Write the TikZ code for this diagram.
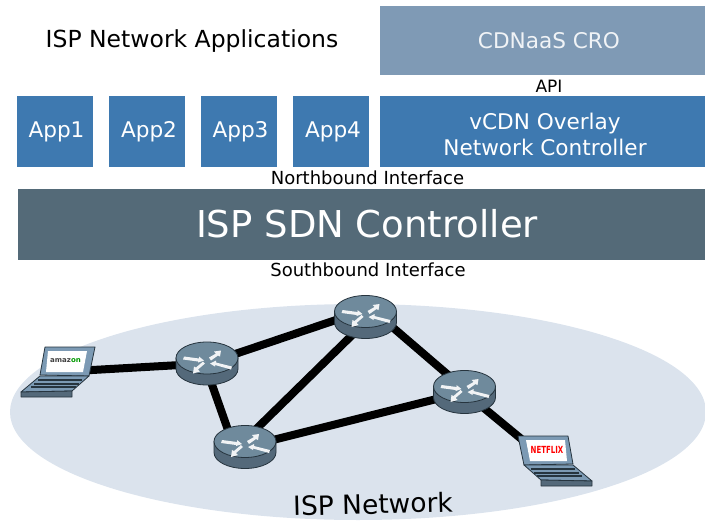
\documentclass[tikz,border=0pt]{standalone}
\usepackage{fontspec}
\setmainfont{DejaVu Sans}
\usepackage{tikz}
\usetikzlibrary{positioning,arrows}

\definecolor{croblue}{HTML}{7F9AB5}
\definecolor{appblue}{HTML}{3E79B0}
\definecolor{sdngrey}{HTML}{546A78}
\definecolor{netblue}{HTML}{DBE3ED}
\definecolor{routertop}{HTML}{6F8A9C}
\definecolor{routerside}{HTML}{54697A}
\definecolor{kitline}{HTML}{26343E}
\definecolor{laptopblue}{HTML}{7C9AB4}

\begin{document}
\begin{tikzpicture}[x=1pt,y=-1pt]

\pgfdeclarelayer{background}
\pgfsetlayers{background,main}

\useasboundingbox (0,0) rectangle (705,522);

\tikzstyle{solidbox} = [text=white, align=center, inner sep=0pt]
\tikzstyle{appbox} = [solidbox, fill=appblue, minimum width=76pt, minimum height=71pt, font=\fontsize{21.6}{26}\selectfont]
\tikzstyle{widebox} = [appbox, minimum width=325pt]
\tikzstyle{crobox} = [widebox, fill=croblue, minimum height=69pt]
\tikzstyle{sdnbox} = [solidbox, fill=sdngrey, minimum width=687pt, minimum height=71pt]
\tikzstyle{boxtext} = [text=white, align=center, inner sep=0pt, font=\fontsize{21.6}{26}\selectfont]
\tikzstyle{texto} = [text=black, inner sep=0pt, font=\fontsize{18}{22}\selectfont]
\tikzstyle{routernode} = [minimum width=62pt, minimum height=43pt, inner sep=0pt]
\tikzstyle{netlink} = [line width=8pt, black]
\tikzstyle{kit} = [draw=kitline, line width=0.8pt, line join=round]

\newcommand{\appbox}[2]{node (app#1) [appbox] {\hspace*{4pt}#2}}

\newcommand{\router}[2]{%
\node (#1) [routernode] at (#2) {};
\begin{scope}[shift={(#1.center)}]
    \path[kit, fill=routerside] (-31,-5.5) -- (-31,5.5)
      arc[start angle=180, end angle=360, x radius=31pt, y radius=16pt]
      -- (31,-5.5) -- cycle;
    \path[kit, fill=routertop] (0,-5.5) ellipse [x radius=31pt, y radius=16pt];
    \fill[white!90!routertop] (-23,-7) -- (-8,-5) -- (-8,-7) -- (-3,-3) -- (-9,-1) -- (-9,-2) -- (-24,-4) -- cycle;
    \fill[white!90!routertop] (2,-6) -- (9,-10) -- (7,-12) -- (14,-13) -- (13,-7) -- (11,-8) -- (4,-3) -- cycle;
    \fill[white!90!routertop] (-2,0) -- (-9,6) -- (-7,8) -- (-14,10) -- (-13,3) -- (-11,4) -- (-4,-2) -- cycle;
    \fill[white!90!routertop] (25,3) -- (9,-1) -- (9,-3) -- (3,0) -- (8,3) -- (8,1.5) -- (24,6) -- cycle;
\end{scope}}

\newcommand{\laptop}[3]{%
\node (#1) [inner sep=0pt] at (#2) {};
\begin{scope}[shift={(#1.center)}, xscale=#3]
    \path[kit, fill=laptopblue] (-12,-25) -- (38,-25) -- (32,4) -- (-17,3) -- cycle;
    \fill[white] (-9,-21) -- (30,-21) -- (26,0) -- (-11,0) -- cycle;
    \path[kit, fill=laptopblue] (-17,4) -- (32,4) -- (15,19) -- (-36,20) -- cycle;
    \path[kit, fill=routerside] (-36,20) -- (15,19) -- (15,25) -- (-36,25) -- cycle;
    \draw[kitline, line width=1.2pt] (-19,8) -- (25,8);
    \draw[kitline, line width=1.2pt] (-23,12) -- (22,12);
    \draw[kitline, line width=1.2pt] (-26,15) -- (19,15);
\end{scope}}

\path (192,41) node (title) [texto, font=\fontsize{23.5}{28}\selectfont] {ISP Network Applications};

\path (542.5,40.5) node (cro) [crobox] {};
\path (549,41) node (crotext) [boxtext, text=white!88!croblue] {CDNaaS CRO};
\path (549,86) node (api) [texto, font=\fontsize{17}{20}\selectfont] {API};

\path (54.5,131.5) \appbox{1}{App1};
\path (app1.center)+(92.5,0) \appbox{2}{App2};
\path (app2.center)+(91.5,0) \appbox{3}{App3};
\path (app3.center)+(92.5,0) \appbox{4}{App4};
\path (542.5,131.5) node (overlay) [widebox] {};
\path (545,134) node (overlaytext) [boxtext] {vCDN Overlay\\Network Controller};

\path (367.5,178) node (north) [texto] {Northbound Interface};
\path (361.5,224.5) node (sdn) [sdnbox] {};
\path (367,224) node (sdntext) [boxtext, font=\fontsize{37}{44}\selectfont] {ISP SDN Controller};
\path (368,270) node (south) [texto] {Southbound Interface};

\router{r1}{207,363.5}
\router{r2}{365.5,317}
\router{r3}{245,447}
\router{r4}{464.5,392}

\laptop{amazonpc}{57,372}{1}
\laptop{netflixpc}{556,461}{-1}
\node (amazonlogo) [inner sep=0pt, font=\fontsize{7}{8}\bfseries\selectfont] at (65.5,361) {\textcolor{black!75}{amaz}\textcolor{green!60!black}{on}};
\node (netflixlogo) [inner sep=0pt, text=red, yscale=1.4, font=\fontsize{7}{8}\bfseries\selectfont] at (547,450) {NETFLIX};

\begin{pgfonlayer}{background}
    \path[fill=netblue] (358,412) ellipse [x radius=348pt, y radius=108pt] node (net) {};
    \draw[netlink] (amazonpc.center) -- (r1.center);
    \draw[netlink] (r1.center) -- ([yshift=7pt]r2.center);
    \draw[netlink] ([yshift=-7pt]r1.center) -- ([xshift=-11pt]r3.center);
    \draw[netlink] ([yshift=7pt]r3.center) -- ([yshift=-5pt]r2.center);
    \draw[netlink] ([yshift=13pt]r2.center) -- ([yshift=3pt]r4.center);
    \draw[netlink] (r3.center) -- (r4.center);
    \draw[netlink] (r4.center) -- ([xshift=-8pt]netflixpc.center);
\end{pgfonlayer}

\path (373,504) node (isp) [texto, rotate=1.5, font=\fontsize{26.5}{30}\selectfont] {ISP Network};

\end{tikzpicture}
\end{document}
